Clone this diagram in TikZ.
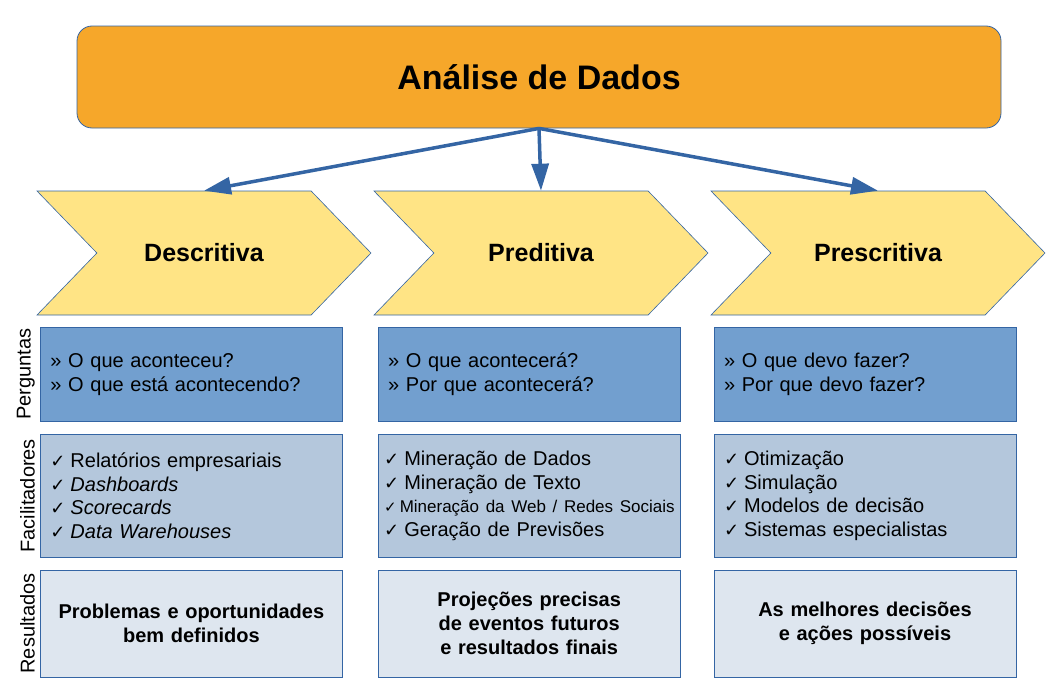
\documentclass[tikz,border=0pt]{standalone}
\usepackage{fontspec}
\setmainfont{Liberation Sans}
\newfontfamily\symfont{DejaVu Sans}
\usetikzlibrary{shapes.symbols, arrows.meta, positioning}
\definecolor{titleorange}{HTML}{F6A72A}
\definecolor{edgeblue}{HTML}{3465A4}
\definecolor{chevyellow}{HTML}{FFE485}
\definecolor{askblue}{HTML}{729FCF}
\definecolor{toolblue}{HTML}{B4C7DC}
\definecolor{resultgray}{HTML}{DEE6EF}
\newcommand{\chk}{{\symfont\fontsize{18}{18}\selectfont ✓}\hspace{5pt}}
\newcommand{\smallchk}{{\symfont\fontsize{15}{15}\selectfont ✓}\hspace{3pt}}

\begin{document}
\begin{tikzpicture}[
    x=1pt, y=-1pt,
    >={Triangle[length=27pt, width=17pt]},
    titlebox/.style={draw=edgeblue, line width=0.8pt, fill=titleorange, rounded corners=15pt, minimum width=924pt, minimum height=102pt, font=\fontsize{34}{40}\selectfont\bfseries},
    chevron/.style={signal, signal from=west, signal to=east, signal pointer angle=92, draw=edgeblue, line width=0.6pt, fill=chevyellow, minimum width=334pt, minimum height=124pt, inner sep=0pt, font=\fontsize{25}{30}\selectfont\bfseries},
    cellbox/.style={draw=edgeblue, line width=0.8pt, minimum width=302pt, inner xsep=10pt, text width=282pt, align=left, font=\fontsize{20}{23.5}\selectfont},
    askbox/.style={cellbox, fill=askblue, minimum height=94pt},
    toolbox/.style={cellbox, fill=toolblue, minimum height=123pt},
    resbox/.style={cellbox, fill=resultgray, minimum height=107pt, align=center, font=\fontsize{20}{24}\selectfont\bfseries},
    rowlabel/.style={rotate=90, anchor=south, inner sep=0pt, font=\fontsize{20}{24}\selectfont},
    flow/.style={->, line width=3.5pt, draw=edgeblue}
  ]
    \useasboundingbox (0,0) rectangle (1056,680);

    \node[titlebox] (title) at (539,77) {Análise de Dados};

    \node[chevron] (desc) at (204,253) {Descritiva};
    \node[chevron] (pred) at (541,253) {Preditiva};
    \node[chevron] (presc) at (878,253) {Prescritiva};

    \node[askbox, anchor=north west] (ask1) at (40,327) {» O que aconteceu?\\» O que está acontecendo?};
    \node[askbox, right=35pt of ask1] (ask2) {» O que acontecerá?\\» Por que acontecerá?};
    \node[askbox, right=33pt of ask2] (ask3) {» O que devo fazer?\\» Por que devo fazer?};

    \node[toolbox, below=12pt of ask1] (tool1) {\chk Relatórios empresariais\\\chk \textit{Dashboards}\\\chk \textit{Scorecards}\\\chk \textit{Data Warehouses}};
    \node[toolbox, below=12pt of ask2, inner xsep=6pt, text width=290pt] (tool2) {\chk Mineração de Dados\\\chk Mineração de Texto\\\mbox{\fontsize{17}{20}\selectfont\smallchk Mineração da Web / Redes Sociais}\\\chk Geração de Previsões};
    \node[toolbox, below=12pt of ask3] (tool3) {\chk Otimização\\\chk Simulação\\\chk Modelos de decisão\\\chk Sistemas especialistas};

    \node[resbox, below=12pt of tool1] (res1) {Problemas e oportunidades\\bem definidos};
    \node[resbox, below=12pt of tool2, inner xsep=10pt, text width=282pt] (res2) {Projeções precisas\\de eventos futuros\\e resultados finais};
    \node[resbox, below=12pt of tool3] (res3) {As melhores decisões\\e ações possíveis};

    \node[rowlabel] (lblask) at ([xshift=-5pt]ask1.west) {Perguntas};
    \node[rowlabel] (lbltool) at ([xshift=-5pt]tool1.west) {Facilitadores};
    \node[rowlabel] (lblres) at ([xshift=-5pt]res1.west) {Resultados};

    \draw[flow] (title.south) -- (desc.north);
    \draw[flow] (title.south) -- (pred.north);
    \draw[flow] (title.south) -- (presc.north);
  \end{tikzpicture}
\end{document}
